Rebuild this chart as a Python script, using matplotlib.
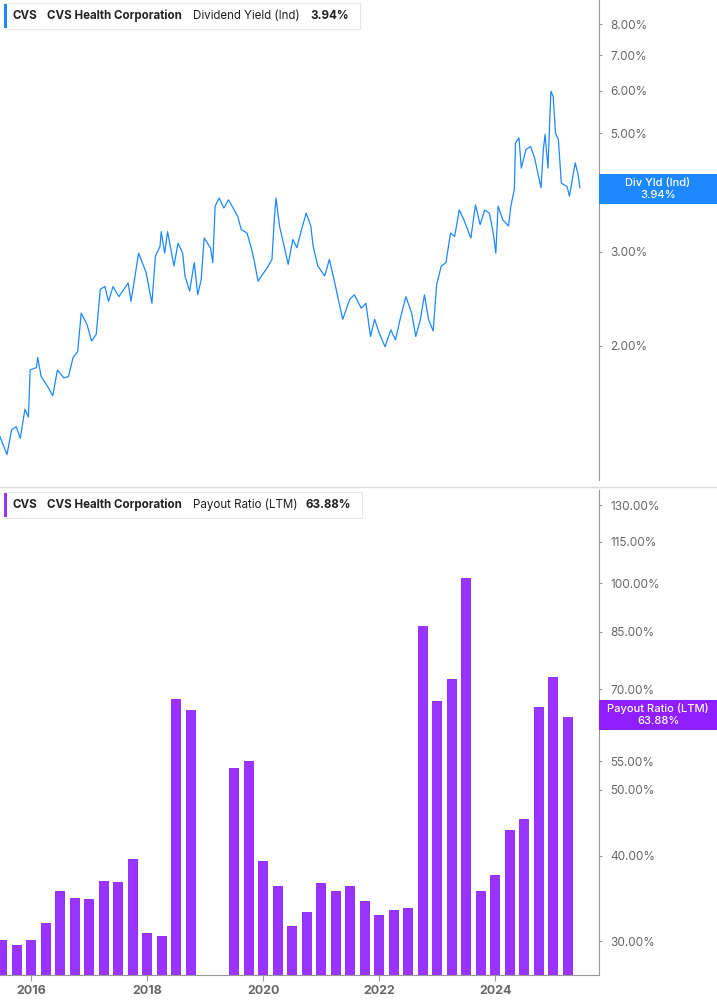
import matplotlib.pyplot as plt
import matplotlib.ticker as mticker
from matplotlib.patches import Rectangle

# ── data ─────────────────────────────────────────
yield_dates = [2015.46, 2015.58, 2015.66, 2015.74, 2015.81, 2015.89, 2015.95, 2015.98, 2016.09, 2016.11,
               2016.17, 2016.29, 2016.37, 2016.45, 2016.56, 2016.64, 2016.72, 2016.80, 2016.86, 2016.96,
               2017.04, 2017.12, 2017.19, 2017.27, 2017.33, 2017.41, 2017.51, 2017.67, 2017.72, 2017.85,
               2017.98, 2018.08, 2018.14, 2018.22, 2018.24, 2018.30, 2018.35, 2018.46, 2018.53, 2018.61,
               2018.65, 2018.73, 2018.81, 2018.87, 2018.93, 2018.98, 2019.09, 2019.13, 2019.17, 2019.24,
               2019.32, 2019.40, 2019.48, 2019.56, 2019.62, 2019.72, 2019.80, 2019.85, 2019.91, 2019.99,
               2020.07, 2020.15, 2020.19, 2020.22, 2020.28, 2020.43, 2020.51, 2020.58, 2020.66, 2020.74,
               2020.82, 2020.86, 2020.94, 2021.06, 2021.14, 2021.22, 2021.37, 2021.49, 2021.57, 2021.69,
               2021.77, 2021.85, 2021.92, 2022.00, 2022.10, 2022.20, 2022.28, 2022.36, 2022.46, 2022.56,
               2022.63, 2022.71, 2022.78, 2022.85, 2022.93, 2022.99, 2023.07, 2023.15, 2023.23, 2023.30,
               2023.38, 2023.46, 2023.58, 2023.66, 2023.74, 2023.82, 2023.90, 2023.97, 2024.01, 2024.05,
               2024.13, 2024.23, 2024.27, 2024.33, 2024.35, 2024.41, 2024.45, 2024.53, 2024.61, 2024.68,
               2024.79, 2024.83, 2024.86, 2024.91, 2024.96, 2025.00, 2025.04, 2025.09, 2025.14, 2025.24,
               2025.28, 2025.33, 2025.38, 2025.43, 2025.46]
yield_vals = [1.35, 1.25, 1.39, 1.41, 1.34, 1.52, 1.47, 1.80, 1.82, 1.90,
              1.75, 1.67, 1.61, 1.80, 1.74, 1.75, 1.90, 1.95, 2.30, 2.19,
              2.04, 2.10, 2.55, 2.58, 2.42, 2.58, 2.47, 2.62, 2.42, 2.98,
              2.74, 2.40, 2.94, 3.07, 3.27, 2.98, 3.27, 2.82, 3.11, 2.98,
              2.70, 2.53, 2.86, 2.49, 2.66, 3.18, 3.05, 2.86, 3.65, 3.78,
              3.62, 3.75, 3.62, 3.49, 3.30, 3.25, 3.03, 2.86, 2.64, 2.72,
              2.80, 2.90, 3.44, 3.78, 3.35, 2.84, 3.16, 3.05, 3.30, 3.54,
              3.35, 3.07, 2.82, 2.70, 2.90, 2.66, 2.24, 2.44, 2.49, 2.35,
              2.40, 2.08, 2.24, 2.11, 1.99, 2.14, 2.05, 2.24, 2.47, 2.30,
              2.08, 2.24, 2.49, 2.24, 2.13, 2.60, 2.82, 2.86, 3.25, 3.20,
              3.59, 3.44, 3.18, 3.67, 3.37, 3.59, 3.54, 3.23, 2.98, 3.65,
              3.44, 3.35, 3.65, 3.92, 4.79, 4.90, 4.30, 4.66, 4.72, 4.49,
              3.95, 4.66, 4.97, 4.30, 5.99, 5.86, 5.00, 4.86, 4.03, 3.97,
              3.81, 4.09, 4.40, 4.18, 3.95]

payout_quarters = [2015.50, 2015.75, 2016.00, 2016.25, 2016.50, 2016.75, 2017.00, 2017.25, 2017.50, 2017.75,
                   2018.00, 2018.25, 2018.50, 2018.75, 2019.50, 2019.75, 2020.00, 2020.25, 2020.50, 2020.75,
                   2021.00, 2021.25, 2021.50, 2021.75, 2022.00, 2022.25, 2022.50, 2022.75, 2023.00, 2023.25,
                   2023.50, 2023.75, 2024.00, 2024.25, 2024.50, 2024.75, 2025.00, 2025.25]
payout_vals = [30.1, 29.6, 30.1, 31.9, 35.5, 34.7, 34.6, 36.8, 36.6, 39.6,
               30.9, 30.6, 67.7, 65.4, 53.7, 55.0, 39.3, 36.1, 31.6, 33.1,
               36.5, 35.5, 36.2, 34.4, 32.8, 33.4, 33.6, 86.7, 67.4, 72.4,
               101.9, 35.6, 37.5, 43.6, 45.3, 66.1, 73.1, 63.88]

yield_ticks = [2, 3, 5, 6, 7, 8]          # 4.00% sits behind the badge
payout_ticks = [30, 40, 50, 55, 70, 85, 100, 115, 130]
year_ticks = [2016, 2018, 2020, 2022, 2024]

BLUE = '#1E88FF'
PURPLE = '#9933FF'
GRAY = '#666666'
W, H = 717, 1005
plt.rcParams['font.family'] = 'Inter'

fig = plt.figure(figsize=(W / 100, H / 100), dpi=100)
ax1 = fig.add_axes([0, 1 - 480 / H, 599 / W, 480 / H])
ax2 = fig.add_axes([0, 1 - 975 / H, 599 / W, (975 - 490) / H])

for ax in (ax1, ax2):
    ax.set_xlim(2015.46, 2025.79)
    ax.set_yscale('log')
    for s in ('left', 'top'):
        ax.spines[s].set_visible(False)
    ax.spines['right'].set_color('#999999')
    ax.yaxis.tick_right()
    ax.tick_params(axis='y', which='both', length=2, color='#999999', labelsize=8.5,
                   labelcolor=GRAY, pad=6)
    ax.yaxis.set_minor_locator(mticker.NullLocator())
    ax.yaxis.set_major_formatter(mticker.FuncFormatter(lambda v, p: f'{v:.2f}%'))

# ── top: dividend yield ──
ax1.plot(yield_dates, yield_vals, color=BLUE, lw=0.9)
ax1.set_ylim(1.12, 8.88)
ax1.set_yticks(yield_ticks)
ax1.spines['bottom'].set_visible(False)
ax1.set_xticks([])

# ── bottom: payout ratio ──
ax2.bar(payout_quarters, payout_vals, width=0.175, color=PURPLE, edgecolor='none')
ax2.set_ylim(26.8, 136.9)
ax2.set_yticks(payout_ticks)
ax2.spines['bottom'].set_color('#999999')
ax2.set_xticks(year_ticks)
ax2.set_xticklabels([str(y) for y in year_ticks])
ax2.tick_params(axis='x', length=4, color='#999999', labelsize=9, labelcolor=GRAY)
for t in ax2.get_xticklabels():
    t.set_fontweight('bold')

# separator line
fig.add_artist(plt.Line2D([0, 1], [1 - 487 / H, 1 - 487 / H], color='#DDDDDD', lw=1))

# legend boxes
def legend_box(y_px, color, metric, value, value_x, w_px):
    y = 1 - y_px / H
    fig.add_artist(Rectangle((5 / W, y - 13 / H), w_px / W, 26 / H, facecolor='white',
                             edgecolor='#E6E6E6', lw=0.8, transform=fig.transFigure))
    fig.add_artist(Rectangle((4 / W, y - 12 / H), 3 / W, 24 / H, facecolor=color,
                             edgecolor='none', transform=fig.transFigure))
    kw = dict(fontsize=8.3, color='#222222', va='center')
    fig.text(13 / W, y, 'CVS', fontweight='bold', **kw)
    fig.text(47 / W, y, 'CVS Health Corporation', fontweight='bold', **kw)
    fig.text(193 / W, y, metric, **kw)
    fig.text(value_x / W, y, value, fontweight='bold', **kw)

legend_box(16, BLUE, 'Dividend Yield (Ind)', '3.94%', 310, 355)
legend_box(505, PURPLE, 'Payout Ratio (LTM)', '63.88%', 306, 357)

# value badges
def badge(y_px, color, l1, l2):
    y = 1 - y_px / H
    fig.add_artist(Rectangle((599 / W, y - 15 / H), 118 / W, 30 / H, facecolor=color,
                             edgecolor='none', transform=fig.transFigure))
    fig.text(658 / W, y + 6 / H, l1, fontsize=8, fontweight='medium', color='white', ha='center', va='center')
    fig.text(658 / W, y - 6 / H, l2, fontsize=8, fontweight='medium', color='white', ha='center', va='center')

badge(189, BLUE, 'Div Yld (Ind)', '3.94%')
badge(715, '#8F1FFF', 'Payout Ratio (LTM)', '63.88%')

fig.savefig('out.png', dpi=100)
